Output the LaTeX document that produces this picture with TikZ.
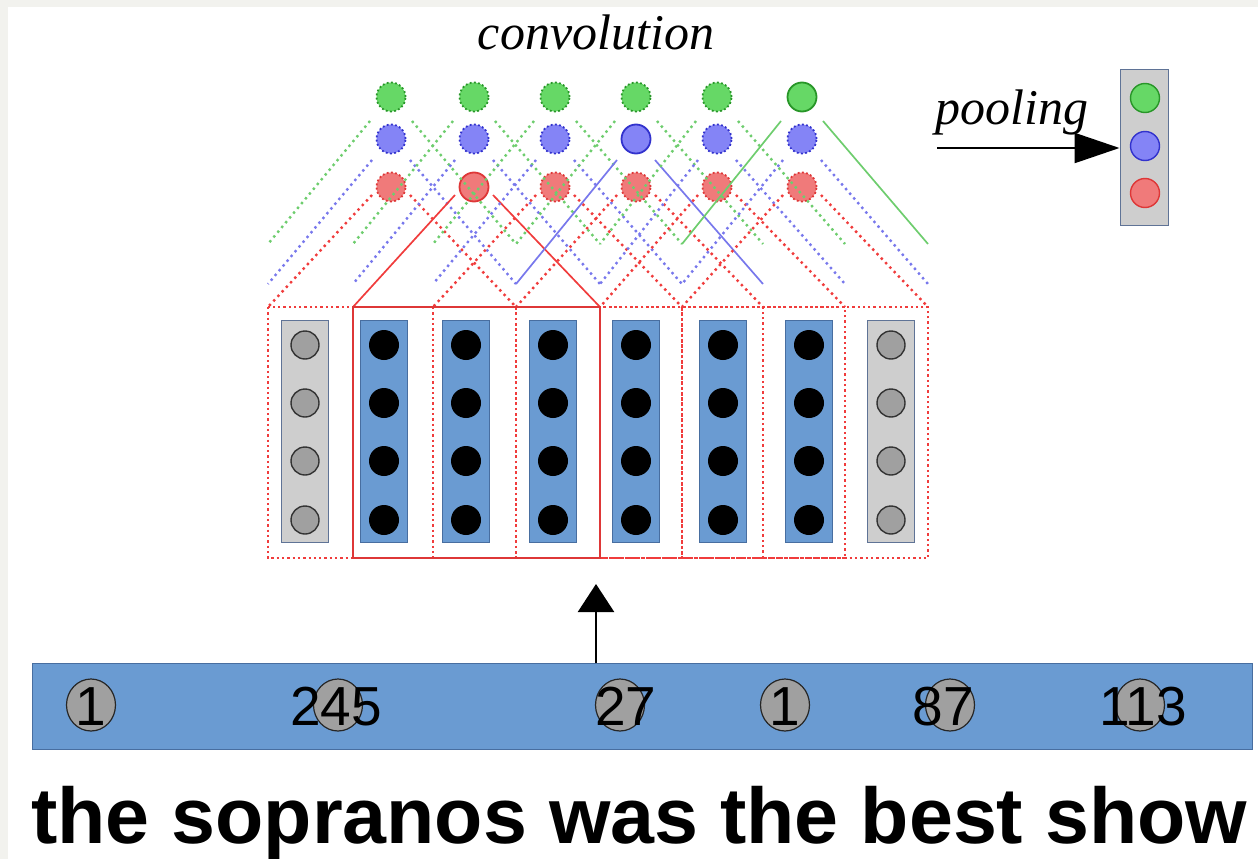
\documentclass[tikz,border=0pt]{standalone}
\usepackage{fontspec}
\setmainfont{Liberation Serif}
\setsansfont{Liberation Sans}
\usetikzlibrary{calc,arrows.meta,shapes.geometric}

\definecolor{framegray}{RGB}{242,242,238}
\definecolor{colblue}{RGB}{106,155,210}
\definecolor{colblueline}{RGB}{72,110,160}
\definecolor{padgray}{RGB}{206,206,206}
\definecolor{padline}{RGB}{95,115,150}
\definecolor{dotgray}{RGB}{160,160,160}
\definecolor{gfill}{RGB}{102,216,102}
\definecolor{gline}{RGB}{40,150,40}
\definecolor{gdots}{RGB}{110,205,110}
\definecolor{bfill}{RGB}{132,132,246}
\definecolor{bline}{RGB}{50,50,205}
\definecolor{bdots}{RGB}{120,120,236}
\definecolor{rfill}{RGB}{240,122,122}
\definecolor{rline}{RGB}{222,55,55}
\definecolor{rdots}{RGB}{240,60,60}

\tikzset{
  colbox/.style={rectangle, minimum width=47pt, minimum height=222pt, inner sep=0pt,
                 fill=colblue, draw=colblueline, line width=0.8pt},
  padbox/.style={colbox, fill=padgray, draw=padline},
  wordunit/.style={circle, minimum size=30pt, inner sep=0pt, fill=black},
  padunit/.style={circle, minimum size=28pt, inner sep=0pt, fill=dotgray, draw=black!80, line width=1.4pt},
  featnode/.style={circle, minimum size=29pt, inner sep=0pt, line width=1.8pt},
  gfeat/.style={featnode, fill=gfill, draw=gline},
  bfeat/.style={featnode, fill=bfill, draw=bline},
  rfeat/.style={featnode, fill=rfill, draw=rline},
  spotted/.style={dash pattern=on 1.8pt off 2.4pt},
  lineon/.style={line width=1.7pt},
  lineoff/.style={line width=2.4pt, dash pattern=on 2.4pt off 3.8pt},
  winoff/.style={draw=rdots, line width=2.3pt, dash pattern=on 2.3pt off 3pt},
  winon/.style={draw=rline, line width=2pt},
  idcircle/.style={ellipse, minimum width=49pt, minimum height=52pt, inner sep=0pt,
                   fill=dotgray, draw=black!85, line width=1.2pt},
  idtext/.style={font=\sffamily\fontsize{55}{55}\selectfont, inner sep=0pt, anchor=base},
  ttl/.style={font=\itshape\fontsize{50}{50}\selectfont, inner sep=0pt}
}

\begin{document}
\begin{tikzpicture}[x=1pt,y=-1pt]
\useasboundingbox (0,0) rectangle (1258,859);
\fill[framegray] (0,0) rectangle (1258,7);
\fill[framegray] (0,0) rectangle (8,859);

% input columns: two padding vectors and six word vectors
\foreach \i/\cx/\bx/\ux in {0/305/padbox/padunit,1/384/colbox/wordunit,2/466/colbox/wordunit,
                            3/553/colbox/wordunit,4/636/colbox/wordunit,5/723/colbox/wordunit,
                            6/809/colbox/wordunit,7/891/padbox/padunit}{
  \node[\bx] (col\i) at (\cx,431) {};
  \foreach \j/\cy in {1/345,2/403,3/461,4/520}{
    \node[\ux] (u\i\j) at (\cx,\cy) {};
  }
}

% feature maps: one column of three filters per window
\foreach \k/\x/\gs/\bs/\rs in {0/391/spotted/spotted/spotted,
                               1/474/spotted/spotted/solid,
                               2/555/spotted/spotted/spotted,
                               3/636/spotted/solid/spotted,
                               4/717/spotted/spotted/spotted,
                               5/802/solid/spotted/spotted}{
  \node[gfeat,\gs] (g\k) at (\x,97) {};
  \node[bfeat,\bs] (b\k) at (\x,139) {};
  \node[rfeat,\rs] (r\k) at (\x,187) {};
}

% windows of three vectors, with their connections to the filters
\foreach \k/\L/\R/\gs/\bs/\rs in {0/268/516/lineoff/lineoff/lineoff,
                                  1/353/600/lineoff/lineoff/lineon,
                                  2/433/682/lineoff/lineoff/lineoff,
                                  3/516/763/lineoff/lineon/lineoff,
                                  4/600/845/lineoff/lineoff/lineoff,
                                  5/682/928/lineon/lineoff/lineoff}{
  \coordinate (wtl\k) at (\L,307);
  \coordinate (wtr\k) at (\R,307);
  \coordinate (wbr\k) at (\R,558);
  \coordinate (gl\k) at (\L,244);
  \coordinate (gr\k) at (\R,244);
  \coordinate (bl\k) at (\L,284);
  \coordinate (br\k) at (\R,284);
  \draw[gdots,\gs] ($(g\k)+(-21,24)$) -- (gl\k);
  \draw[gdots,\gs] ($(g\k)+(21,24)$) -- (gr\k);
  \draw[bdots,\bs] ($(b\k)+(-19,21)$) -- (bl\k);
  \draw[bdots,\bs] ($(b\k)+(19,21)$) -- (br\k);
  \draw[rdots,\rs] ($(r\k)+(-19,8)$) -- (wtl\k);
  \draw[rdots,\rs] ($(r\k)+(19,8)$) -- (wtr\k);
}
\foreach \k in {0,2,3,4,5}{
  \draw[winoff] (wtl\k) rectangle (wbr\k);
}
\draw[winon] (wtl1) rectangle (wbr1);

\node[ttl, anchor=base] (convlabel) at (596,50) {convolution};

% max pooling result
\node[rectangle, minimum width=48pt, minimum height=155pt, inner sep=0pt,
      fill=padgray, draw=padline, line width=1pt] (pool) at (1144,147.5) {};
\node[gfeat, line width=1.4pt] (pg) at (1145,98) {};
\node[bfeat, line width=1.4pt] (pb) at (1145,146) {};
\node[rfeat, line width=1.4pt] (pr) at (1145,193) {};
\node[ttl, anchor=base west] (poollabel) at (935,124) {pooling};
\coordinate (poolfrom) at (937,148);
\draw[line width=2.4pt, -{Triangle[length=45pt,width=30pt]}] (poolfrom) -- (pool.west |- poolfrom);

% word indices
\node[rectangle, minimum width=1220pt, minimum height=86pt, inner sep=0pt,
      fill=colblue, draw=colblueline, line width=0.8pt] (bar) at (642,706) {};
\coordinate (upfrom) at (596,663);
\coordinate (upto) at (596,584);
\draw[line width=2.4pt, -{Triangle[length=28pt,width=36pt]}] (upfrom) -- (upto);

\foreach \n/\cx/\tx/\val in {1/91/91/1, 2/338/336/245, 3/620/626/27, 4/785/785/1, 5/950/943/87, 6/1140/1143/113}{
  \node[idcircle] (id\n) at (\cx,705) {};
  \node[idtext] (idt\n) at (\tx,725) {\val};
}

\node[font=\sffamily\bfseries\fontsize{79}{79}\selectfont, inner sep=0pt, anchor=base west]
  (sentence) at (31,843) {the sopranos was the best show};
\end{tikzpicture}
\end{document}
